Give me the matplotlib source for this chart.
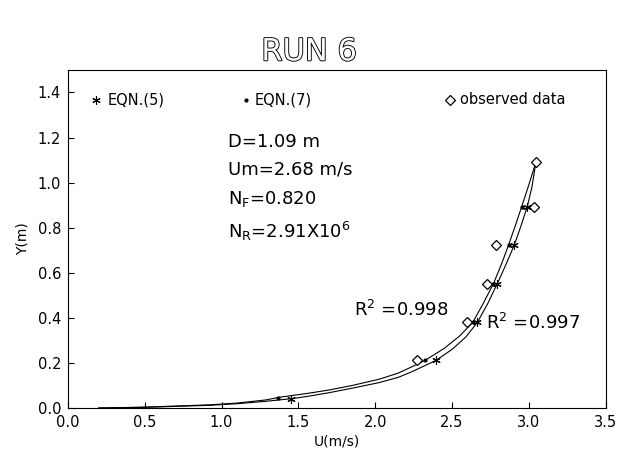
import matplotlib
matplotlib.use('Agg')
import matplotlib.pyplot as plt
import matplotlib.patheffects as pe

# beobachtete Daten
obs_u = [2.27, 2.60, 2.73, 2.785, 3.034, 3.046]
obs_y = [0.211, 0.380, 0.552, 0.723, 0.894, 1.090]

# EQN.(5) Punkte
eq5_u = [1.453, 2.395, 2.665, 2.795, 2.905, 2.99]
eq5_y = [0.040, 0.211, 0.380, 0.552, 0.723, 0.894]

# EQN.(7) Punkte
eq7_u = [1.367, 2.324, 2.635, 2.77, 2.868, 2.954]
eq7_y = [0.043, 0.211, 0.380, 0.552, 0.723, 0.894]

# Kurven
c7_u = [0.2, 0.5, 0.92, 1.1, 1.29, 1.378, 1.55, 1.70, 1.85, 2.027, 2.15, 2.242, 2.324,
        2.45, 2.55, 2.635, 2.70, 2.77, 2.82, 2.868, 2.91, 2.954, 3.00, 3.046]
c7_y = [0.0, 0.004, 0.014, 0.022, 0.036, 0.048, 0.064, 0.080, 0.100, 0.128, 0.155, 0.184, 0.211,
        0.265, 0.320, 0.380, 0.46, 0.552, 0.635, 0.723, 0.805, 0.894, 0.99, 1.09]
c5_u = [0.2, 0.5, 0.92, 1.1, 1.29, 1.464, 1.58, 1.70, 1.85, 2.027, 2.15, 2.242, 2.395,
        2.50, 2.59, 2.665, 2.73, 2.795, 2.85, 2.905, 2.95, 2.99, 3.02, 3.046]
c5_y = [0.0, 0.003, 0.012, 0.019, 0.030, 0.042, 0.054, 0.068, 0.088, 0.113, 0.136, 0.162, 0.211,
        0.260, 0.315, 0.380, 0.46, 0.552, 0.635, 0.723, 0.810, 0.894, 0.98, 1.09]

x_ticks = [0.0, 0.5, 1.0, 1.5, 2.0, 2.5, 3.0, 3.5]
y_ticks = [0.0, 0.2, 0.4, 0.6, 0.8, 1.0, 1.2, 1.4]

fig = plt.figure(figsize=(6.18, 4.51), dpi=100)
ax = fig.add_axes([0.110, 0.0953, 0.870, 0.7497])

asterisk = (6, 2, 0)

ax.plot(c7_u, c7_y, 'k-', linewidth=0.8)
ax.plot(c5_u, c5_y, 'k-', linewidth=0.8)
ax.plot(obs_u, obs_y, linestyle='none', marker='D', markersize=5.5,
        markerfacecolor='white', markeredgecolor='black', markeredgewidth=0.9)
ax.plot(eq5_u, eq5_y, linestyle='none', marker=asterisk, markersize=6,
        color='black', markeredgewidth=0.8)
ax.plot(eq7_u, eq7_y, linestyle='none', marker='o', markersize=2, color='black')

ax.set_xlim(0, 3.5)
ax.set_ylim(0, 1.5)
ax.set_xticks(x_ticks)
ax.set_yticks(y_ticks)
ax.set_xticklabels([f'{v:.1f}' for v in x_ticks])
ax.set_yticklabels([f'{v:.1f}' for v in y_ticks])
ax.tick_params(direction='in', length=4, width=0.8, labelsize=10.5, colors='black', pad=5)
for sp in ax.spines.values():
    sp.set_linewidth(0.8)

ax.set_xlabel('U(m/s)', fontsize=10, labelpad=3)
ax.set_ylabel('Y(m)', fontsize=10, labelpad=6)

# Legende von Hand
leg_y = 0.911
ax.plot([0.052], [leg_y], transform=ax.transAxes, marker=asterisk, markersize=6,
        color='black', markeredgewidth=0.8, clip_on=False)
ax.text(0.074, leg_y, 'EQN.(5)', transform=ax.transAxes, fontsize=10.5, va='center')
ax.plot([0.331], [leg_y], transform=ax.transAxes, marker='o', markersize=2, color='black')
ax.text(0.348, leg_y, 'EQN.(7)', transform=ax.transAxes, fontsize=10.5, va='center')
ax.plot([0.711], [leg_y], transform=ax.transAxes, marker='D', markersize=5,
        markerfacecolor='white', markeredgecolor='black', markeredgewidth=0.9)
ax.text(0.730, leg_y, 'observed data', transform=ax.transAxes, fontsize=10.5, va='center')

# Parameter
ax.text(1.04, 1.18, 'D=1.09 m', fontsize=13, va='center')
ax.text(1.04, 1.06, 'Um=2.68 m/s', fontsize=13, va='center')
ax.text(1.04, 0.926, r'N$_\mathrm{F}$=0.820', fontsize=13, va='center')
ax.text(1.04, 0.785, r'N$_\mathrm{R}$=2.91X10$^6$', fontsize=13, va='center')

ax.text(1.865, 0.437, r'R$^2$ =0.998', fontsize=13, va='center')
ax.text(2.72, 0.379, r'R$^2$ =0.997', fontsize=13, va='center')

# Titel (hohl)
fig.text(0.5, 0.885, 'RUN 6', ha='center', va='center', fontsize=22, color='white',
         path_effects=[pe.withStroke(linewidth=1.3, foreground='black')])

plt.savefig('out.png', dpi=100)
